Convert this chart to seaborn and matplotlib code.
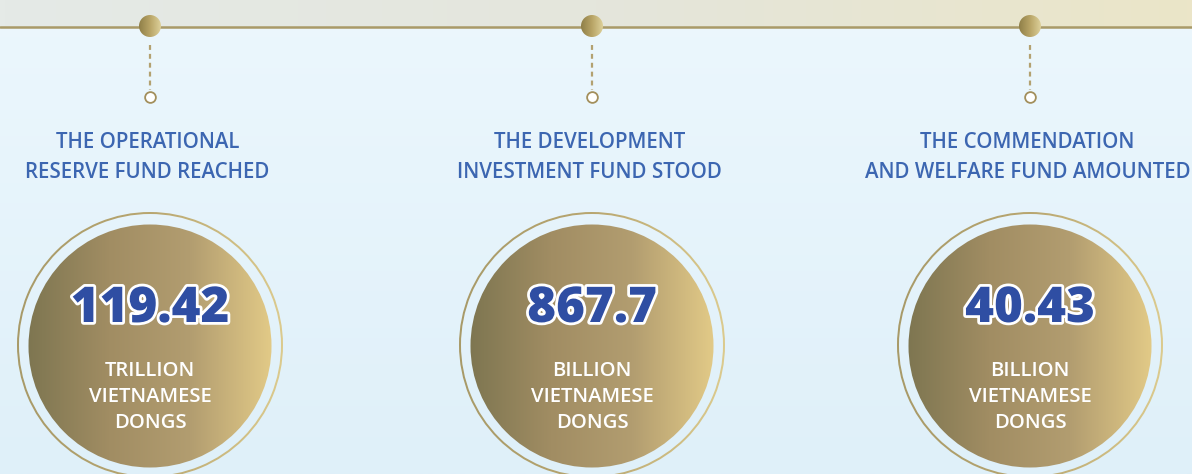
import numpy as np
import matplotlib.pyplot as plt
import matplotlib.patheffects as pe
from matplotlib.colors import LinearSegmentedColormap
from matplotlib.patches import Circle, Annulus
import seaborn as sns

# fund figures shown in the three medallions
titles = [
    ["THE OPERATIONAL", "RESERVE FUND REACHED"],
    ["THE DEVELOPMENT", "INVESTMENT FUND STOOD"],
    ["THE COMMENDATION", "AND WELFARE FUND AMOUNTED"],
]
values = ["119.42", "867.7", "40.43"]
units = [
    ["TRILLION", "VIETNAMESE", "DONGS"],
    ["BILLION", "VIETNAMESE", "DONGS"],
    ["BILLION", "VIETNAMESE", "DONGS"],
]

# layout (pixels)
W, H = 1192, 474
centers = [150, 592, 1030]
line_y = 27
disc_y = 345

sns.set_theme(style="white")
plt.rcParams['font.family'] = ['Open Sans', 'DejaVu Sans']

gold = LinearSegmentedColormap.from_list("gold", ["#7e7651", "#a18d63", "#b29d70", "#e2ca87"])
dot_gold = LinearSegmentedColormap.from_list("dotgold", ["#8f7f48", "#b8a466", "#ddd09a"])
ring_gold = LinearSegmentedColormap.from_list("ringgold", ["#a89a68", "#b8a670", "#dccb8e"])
band = LinearSegmentedColormap.from_list("band", ["#e5eae7", "#e4e6dc", "#ebe5c8"])
sky = LinearSegmentedColormap.from_list("sky", ["#ecf7fd", "#dff0f9"])

fig = plt.figure(figsize=(W / 100, H / 100), dpi=100)
ax = fig.add_axes([0, 0, 1, 1])

# background: light blue body and beige band at the top
ax.imshow(np.linspace(0, 1, 256)[:, None], cmap=sky, extent=[0, W, H, 0], aspect='auto', zorder=0)
ax.imshow(np.linspace(0, 1, 256)[None, :], cmap=band, extent=[0, W, line_y, 0], aspect='auto', zorder=0.5)


def gradient_fill(patch, cmap, x0, x1, y0, y1, z):
    patch.set_facecolor('none')
    patch.set_edgecolor('none')
    ax.add_patch(patch)
    im = ax.imshow(np.linspace(0, 1, 256)[None, :], cmap=cmap,
                   extent=[x0, x1, y1, y0], aspect='auto', zorder=z)
    im.set_clip_path(patch)


# timeline
sns.lineplot(x=[0, W], y=[line_y, line_y], color="#a99a68", linewidth=1.8, ax=ax, zorder=2)

for i, cx in enumerate(centers):
    # top bead
    gradient_fill(Circle((cx, line_y - 1), 11), dot_gold, cx - 11, cx + 11, line_y - 12, line_y + 10, 3)
    # dashed connector
    ax.plot([cx, cx], [45, 90], color="#b3a170", linewidth=1.6, linestyle=(0, (2.2, 1.8)), zorder=2)

    # titles
    for j, line in enumerate(titles[i]):
        ax.text(cx - 2.5, 142 + 31 * j, line, ha='center', va='center', color="#3c66b1",
                fontsize=14.8, fontweight='semibold', zorder=4)

    # medallion: outer ring and gradient disc
    gradient_fill(Annulus((cx, disc_y), 133, 2), ring_gold, cx - 134, cx + 134, disc_y - 134, disc_y + 134, 3)
    gradient_fill(Circle((cx, disc_y + 1), 121.5), gold, cx - 122, cx + 122, disc_y - 121, disc_y + 123, 3)

    ax.text(cx, 309, values[i], ha='center', va='center', color="#2f4ea3",
            fontsize=35.5, fontweight='heavy', zorder=5,
            path_effects=[pe.Stroke(linewidth=4, foreground='white'), pe.Normal()])
    for j, line in enumerate(units[i]):
        ax.text(cx, 371 + 26 * j, line, ha='center', va='center', color="white",
                fontsize=14.6, fontweight='semibold', zorder=5)

# hollow end markers
sns.scatterplot(x=centers, y=[97] * 3, s=60, color="white", edgecolor="#a38f5c",
                linewidth=1.3, ax=ax, zorder=4)

ax.set_xlim(0, W)
ax.set_ylim(H, 0)
ax.axis('off')

fig.savefig("out.png", dpi=100)
